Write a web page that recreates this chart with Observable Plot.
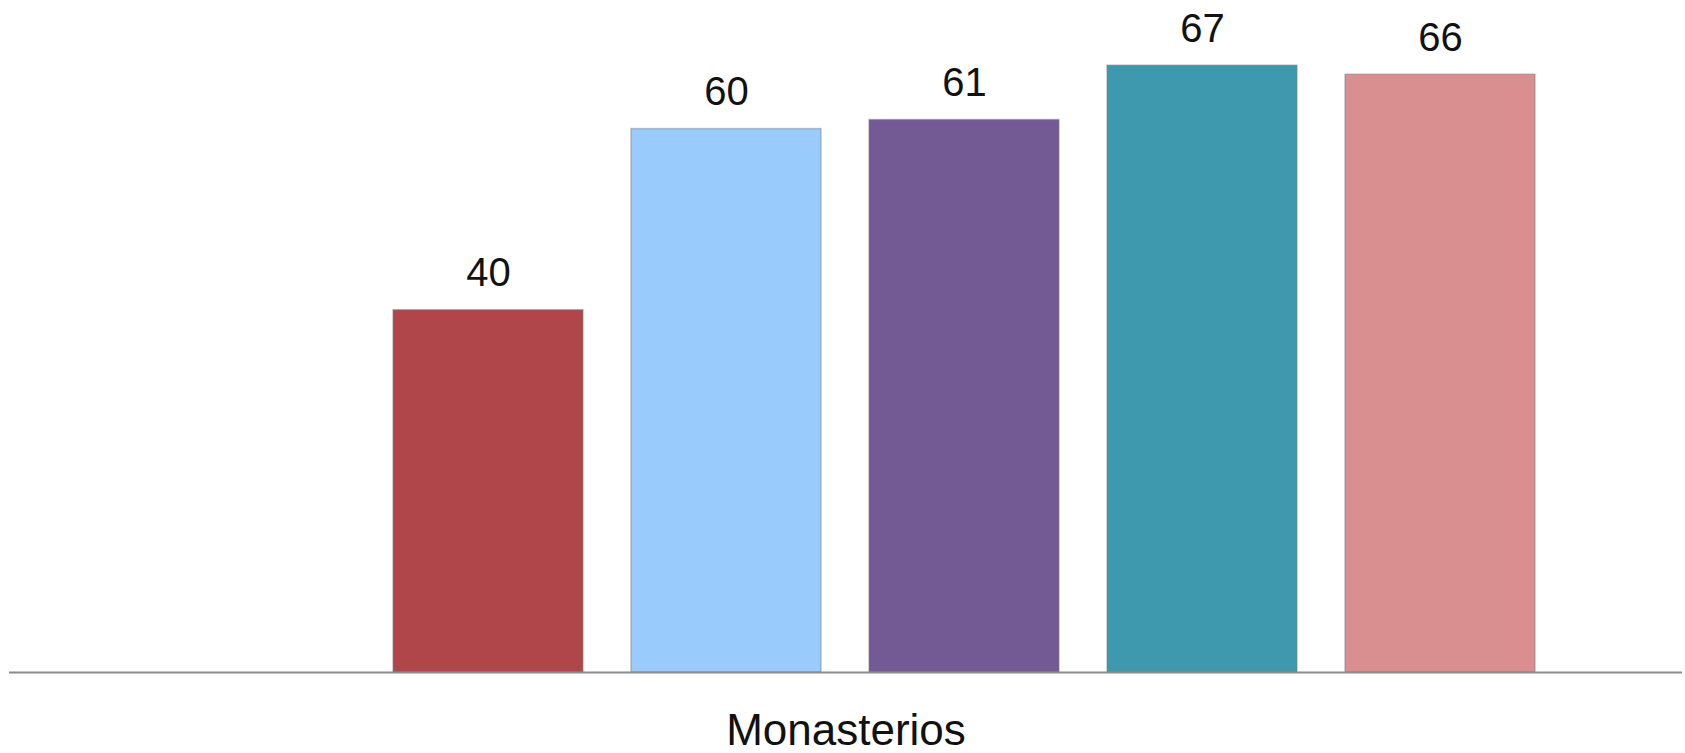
<!DOCTYPE html>
<html>
<head>
<meta charset="utf-8">
<script src="https://cdn.jsdelivr.net/npm/d3@7"></script>
<script src="https://cdn.jsdelivr.net/npm/@observablehq/plot@0.6"></script>
<style>
  html, body { margin: 0; padding: 0; background: #fff; }
  svg { overflow: visible; }
</style>
</head>
<body>
<div id="chart"></div>
<script>
const category = "Monasterios";
const series = ["Serie 1", "Serie 2", "Serie 3", "Serie 4", "Serie 5", "Serie 6"];
const values = [null, 40, 60, 61, 67, 66];
const colors = ["#cccccc", "#b0454a", "#9acbfd", "#735a95", "#3f99ae", "#d98f8f"];

const data = series.map((s, i) => ({series: s, value: values[i], color: colors[i]}));
const shown = data.filter(d => d.value != null);

const chart = Plot.plot({
  width: 1685,
  height: 753,
  marginLeft: 9,
  marginRight: 3,
  marginTop: 38,
  marginBottom: 81,
  style: {background: "#fff", fontFamily: "Liberation Sans, Arial, sans-serif"},
  x: {domain: series, paddingInner: 0.2, paddingOuter: 0.606, axis: null},
  y: {domain: [0, 70], axis: null},
  color: {domain: series, range: colors},
  marks: [
    Plot.barY(shown, {x: "series", y: "value", fill: "series", stroke: "#7a7a7a", strokeOpacity: 0.45, strokeWidth: 1.5}),
    Plot.ruleY([0], {stroke: "#8c8c8c", strokeWidth: 2}),
    Plot.text(shown, {x: "series", y: "value", text: d => String(d.value), dy: -24, lineAnchor: "bottom", fontSize: 40, fill: "#111"}),
    Plot.text([category], {frameAnchor: "bottom", lineAnchor: "bottom", dy: 72, text: d => d, fontSize: 44, fill: "#111"})
  ]
});
document.getElementById("chart").appendChild(chart);
</script>
</body>
</html>
